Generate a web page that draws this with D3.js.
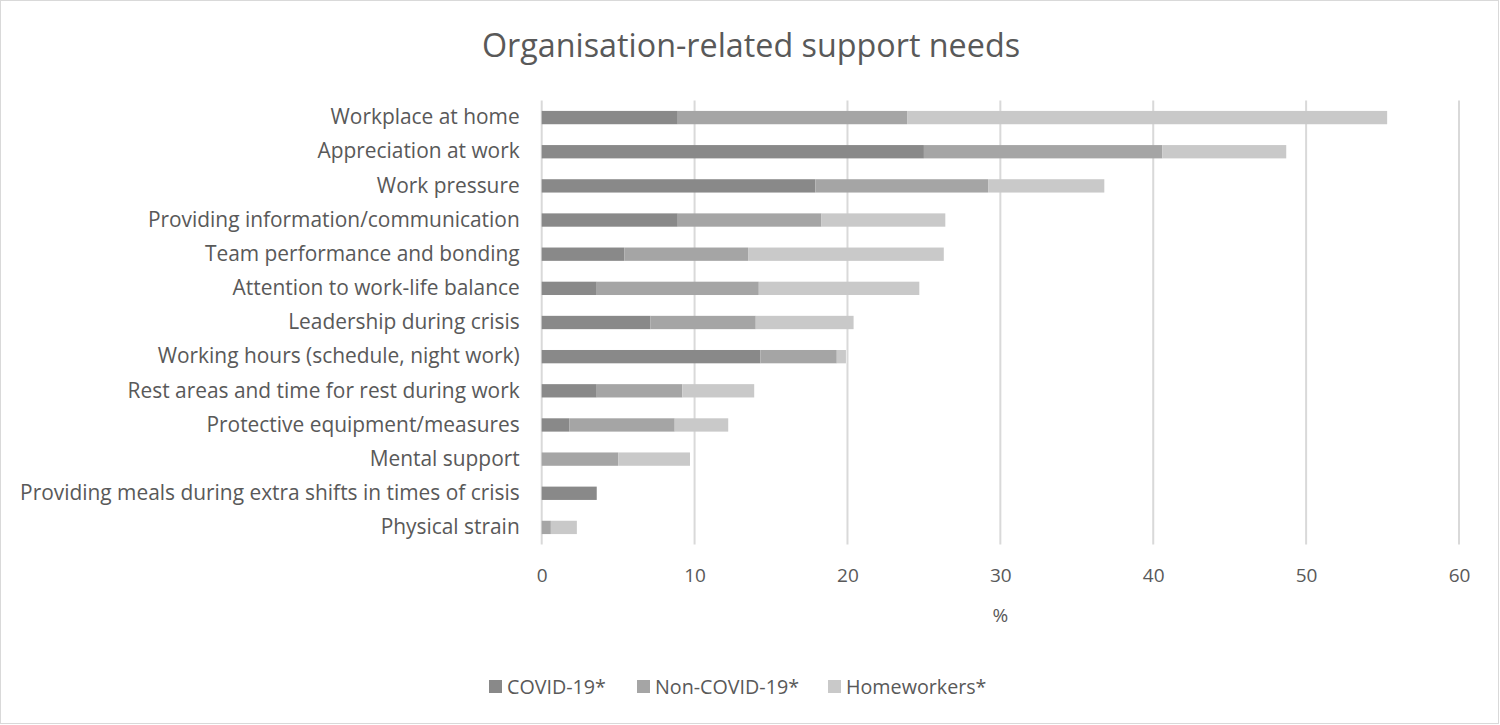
<!DOCTYPE html>
<html>
<head>
<meta charset="utf-8">
<script src="https://cdn.jsdelivr.net/npm/d3@7"></script>
<style>
  body { margin: 0; background: #fff; }
  svg { display: block; font-family: "Open Sans", sans-serif; }
</style>
</head>
<body>
<div id="chart"></div>
<script>
const categories = [
  "Workplace at home",
  "Appreciation at work",
  "Work pressure",
  "Providing information/communication",
  "Team performance and bonding",
  "Attention to work-life balance",
  "Leadership during crisis",
  "Working hours (schedule, night work)",
  "Rest areas and time for rest during work",
  "Protective equipment/measures",
  "Mental support",
  "Providing meals during extra shifts in times of crisis",
  "Physical strain"
];
const seriesNames = ["COVID-19*", "Non-COVID-19*", "Homeworkers*"];
const covid = [8.9, 25.0, 17.9, 8.9, 5.4, 3.6, 7.1, 14.3, 3.6, 1.8, 0, 3.6, 0];
const nonCovid = [15.0, 15.6, 11.3, 9.4, 8.1, 10.6, 6.9, 5.0, 5.6, 6.9, 5.0, 0, 0.6];
const homeworkers = [31.4, 8.1, 7.6, 8.1, 12.8, 10.5, 6.4, 0.6, 4.7, 3.5, 4.7, 0, 1.7];
const xTicks = [0, 10, 20, 30, 40, 50, 60];
const colors = ["#898989", "#a5a5a5", "#c9c9c9"];

const width = 1500, height = 725;
const margin = { top: 100.5, right: 41, bottom: 180.5, left: 541.7 };

const svg = d3.select("#chart").append("svg")
  .attr("width", width)
  .attr("height", height);

svg.append("rect")
  .attr("x", 0.5).attr("y", 0.5)
  .attr("width", width - 2).attr("height", height - 2)
  .attr("fill", "#fff").attr("stroke", "#d9d9d9");

const x = d3.scaleLinear().domain([0, 60]).range([margin.left, width - margin.right]);
const y = d3.scaleBand().domain(categories)
  .range([margin.top, height - margin.bottom]).paddingInner(0.61).paddingOuter(0.305);

const rows = categories.map((c, i) => ({ cat: c, COVID: covid[i], Non: nonCovid[i], Home: homeworkers[i] }));
const stacked = d3.stack().keys(["COVID", "Non", "Home"])(rows);

// gridlines
svg.append("g")
  .selectAll("line")
  .data(xTicks)
  .join("line")
  .attr("x1", d => x(d)).attr("x2", d => x(d))
  .attr("y1", margin.top).attr("y2", height - margin.bottom)
  .attr("stroke", "#d9d9d9").attr("stroke-width", 2);

svg.append("g")
  .selectAll("g")
  .data(stacked)
  .join("g")
  .attr("fill", (d, i) => colors[i])
  .selectAll("rect")
  .data(d => d)
  .join("rect")
  .attr("x", d => x(d[0]))
  .attr("width", d => x(d[1]) - x(d[0]))
  .attr("y", d => y(d.data.cat))
  .attr("height", y.bandwidth());

// x axis
const xAxis = svg.append("g")
  .attr("transform", `translate(0,${height - margin.bottom})`)
  .call(d3.axisBottom(x).tickValues(xTicks).tickSize(0).tickPadding(24));
xAxis.select(".domain").remove();
xAxis.selectAll("text").attr("font-size", 19).attr("fill", "#595959").attr("font-family", "'Open Sans', sans-serif");

// y axis
const yAxis = svg.append("g")
  .attr("transform", `translate(${margin.left},0)`)
  .call(d3.axisLeft(y).tickSize(0).tickPadding(22));
yAxis.select(".domain").remove();
yAxis.selectAll("text").attr("font-size", 20.9).attr("fill", "#595959").attr("font-family", "'Open Sans', sans-serif");

svg.append("text")
  .attr("x", 751).attr("y", 57)
  .attr("text-anchor", "middle")
  .attr("font-size", 32.3).attr("fill", "#595959")
  .text("Organisation-related support needs");

svg.append("text")
  .attr("x", x(30)).attr("y", 622)
  .attr("text-anchor", "middle")
  .attr("font-size", 19).attr("fill", "#595959")
  .text("%");

// legend
const legendX = [489, 637, 828];
const legend = svg.append("g").selectAll("g")
  .data(seriesNames)
  .join("g")
  .attr("transform", (d, i) => `translate(${legendX[i]},680)`);
legend.append("rect").attr("width", 13).attr("height", 13).attr("fill", (d, i) => colors[i]);
legend.append("text").attr("x", 18).attr("y", 13.5)
  .attr("font-size", 19.7).attr("fill", "#595959").text(d => d);
</script>
</body>
</html>
